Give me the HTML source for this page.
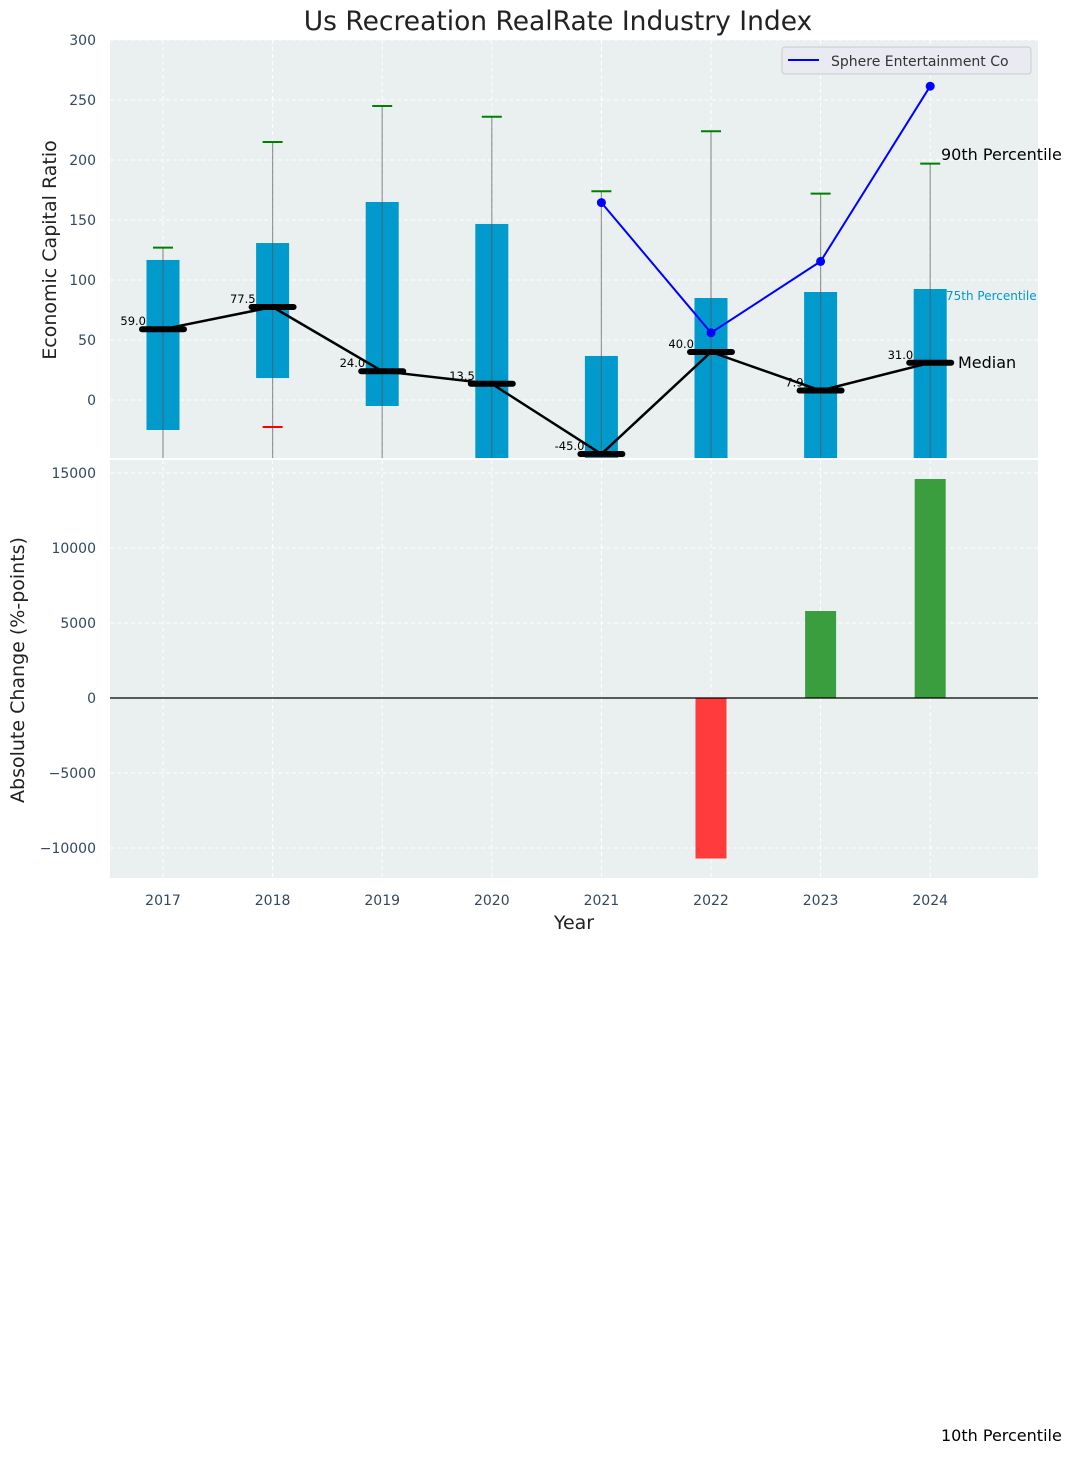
<!DOCTYPE html>
<html><head><meta charset="utf-8"><style>
body{margin:0;background:#fff;}
svg text{font-family:"DejaVu Sans","Liberation Sans",sans-serif;}
</style></head><body>
<svg id="chart" width="1076" height="1454" viewBox="0 0 1076 1454" xmlns="http://www.w3.org/2000/svg"></svg>
<script>
const years=[2017,2018,2019,2020,2021,2022,2023,2024];
const medians=[59.0,77.5,24.0,13.5,-45.0,40.0,7.9,31.0];
const q75=[116.7,130.8,165,146.7,36.7,85,90,92.5];
const q25=[-25,18.3,-5,-60,-60,-60,-60,-60];
const p90=[127,215,245,236,174,224,172,197];
const p10=[null,-22.5,null,null,null,null,null,null];
const sphereYears=[2021,2022,2023,2024];
const sphereVals=[164.5,56,115.5,261.5];
const changeYears=[2022,2023,2024];
const changeVals=[-10700,5800,14600];
const topTicks=[0,50,100,150,200,250,300];
const botTicks=[-10000,-5000,0,5000,10000,15000];

const NS="http://www.w3.org/2000/svg";
const svg=document.getElementById('chart');
function el(t,a,txt){const e=document.createElementNS(NS,t);for(const k in a)e.setAttribute(k,a[k]);if(txt!==undefined)e.textContent=txt;svg.appendChild(e);return e;}
const L=110,R=1038,T1=40,B1=458,T2=460,B2=878;
const x=yr=>163+(yr-2017)*109.6;
const y1=v=>400-v*1.2;
const y2=v=>698-v*0.015;

let e;
e=el('rect',{x:L,y:T1,width:R-L,height:B1-T1,fill:'#eaeff0'});

e=el('rect',{x:L,y:T2,width:R-L,height:B2-T2,fill:'#eaeff0'});


years.forEach(yr=>{
 e=el('line',{x1:x(yr),x2:x(yr),y1:T1,y2:B1,stroke:'#fff','stroke-dasharray':'4,3','stroke-width':1});
 
 e=el('line',{x1:x(yr),x2:x(yr),y1:T2,y2:B2,stroke:'#fff','stroke-dasharray':'4,3','stroke-width':1});
 
});
topTicks.forEach(t=>{
 e=el('line',{x1:L,x2:R,y1:y1(t),y2:y1(t),stroke:'#fff','stroke-dasharray':'4,3'});
 
 e=el('text',{x:96,y:y1(t)+5,'text-anchor':'end','font-size':14,fill:'#34495e'},String(t));
 
});
botTicks.forEach(t=>{
 e=el('line',{x1:L,x2:R,y1:y2(t),y2:y2(t),stroke:'#fff','stroke-dasharray':'4,3'});
 
 e=el('text',{x:96,y:y2(t)+5,'text-anchor':'end','font-size':14,fill:'#34495e'},t<0?'\u2212'+Math.abs(t):String(t));
 
});

const defs=document.createElementNS(NS,'defs');svg.appendChild(defs);
const cp=document.createElementNS(NS,'clipPath');cp.setAttribute('id','c1');defs.appendChild(cp);
const cr=document.createElementNS(NS,'rect');cr.setAttribute('x',L);cr.setAttribute('y',T1);cr.setAttribute('width',R-L);cr.setAttribute('height',B1-T1);cp.appendChild(cr);
const g=document.createElementNS(NS,'g');g.setAttribute('clip-path','url(#c1)');svg.appendChild(g);
function gel(t,a,txt){const e=el(t,a,txt);g.appendChild(e);return e;}

years.forEach((yr,i)=>{
 const cx=x(yr);
 e=gel('rect',{x:cx-16.5,y:y1(q75[i]),width:33,height:y1(q25[i])-y1(q75[i]),fill:'#009acd'});
 
 e=gel('line',{x1:cx,x2:cx,y1:y1(p90[i]),y2:B1,stroke:'#555','stroke-opacity':0.6,'stroke-width':1.2});
 
 e=gel('line',{x1:cx-10,x2:cx+10,y1:y1(p90[i]),y2:y1(p90[i]),stroke:'green','stroke-width':2});
 
 if(p10[i]!==null){e=gel('line',{x1:cx-10,x2:cx+10,y1:y1(p10[i]),y2:y1(p10[i]),stroke:'red','stroke-width':2});
 }
});
e=gel('polyline',{points:years.map((yr,i)=>x(yr)+','+y1(medians[i])).join(' '),fill:'none',stroke:'#000','stroke-width':2.5});

years.forEach((yr,i)=>{
 const cx=x(yr);
 e=gel('line',{x1:cx-21,x2:cx+21,y1:y1(medians[i]),y2:y1(medians[i]),stroke:'#000','stroke-width':6,'stroke-linecap':'round'});
 
 e=gel('text',{x:cx-17,y:y1(medians[i])-4,'text-anchor':'end','font-size':11.5,fill:'#000'},medians[i].toFixed(1));
 
});
e=gel('polyline',{points:sphereYears.map((yr,i)=>x(yr)+','+y1(sphereVals[i])).join(' '),fill:'none',stroke:'blue','stroke-width':2});

sphereYears.forEach((yr,i)=>{
 e=gel('circle',{cx:x(yr),cy:y1(sphereVals[i]),r:4.5,fill:'blue'});
 
});

changeYears.forEach((yr,i)=>{
 const v=changeVals[i];
 e=el('rect',{x:x(yr)-15.5,y:Math.min(y2(v),y2(0)),width:31,height:Math.abs(y2(v)-y2(0)),fill:v<0?'#ff3b3b':'#3b9e3e'});
 
});
e=el('line',{x1:L,x2:R,y1:y2(0),y2:y2(0),stroke:'#000','stroke-width':1.2});


years.forEach(yr=>{
 e=el('text',{x:x(yr),y:905,'text-anchor':'middle','font-size':14,fill:'#34495e'},String(yr));
 
});

e=el('text',{x:941,y:160,'font-size':16,fill:'#000'},'90th Percentile');
e=el('text',{x:946,y:300,'font-size':12,fill:'#009acd'},'75th Percentile');
e=el('text',{x:958,y:368,'font-size':16,fill:'#000'},'Median');
e=el('text',{x:941,y:1441,'font-size':16,fill:'#000'},'10th Percentile');

e=el('text',{x:558,y:30,'text-anchor':'middle','font-size':26.5,fill:'#222'},'Us Recreation RealRate Industry Index');

e=el('text',{x:574,y:929,'text-anchor':'middle','font-size':19,fill:'#222'},'Year');

e=el('text',{x:56,y:250,'text-anchor':'middle','font-size':19,fill:'#222',transform:'rotate(-90 56 250)'},'Economic Capital Ratio');

e=el('text',{x:24,y:670,'text-anchor':'middle','font-size':19,fill:'#222',transform:'rotate(-90 24 670)'},'Absolute Change (%-points)');


e=el('rect',{x:782,y:47,width:249,height:27,rx:3,fill:'#eaeaf2',stroke:'#ccc'});

e=el('line',{x1:788,x2:819,y1:60,y2:60,stroke:'blue','stroke-width':2});

e=el('text',{x:831,y:66,'font-size':14,fill:'#333'},'Sphere Entertainment Co');

</script>
</body></html>
